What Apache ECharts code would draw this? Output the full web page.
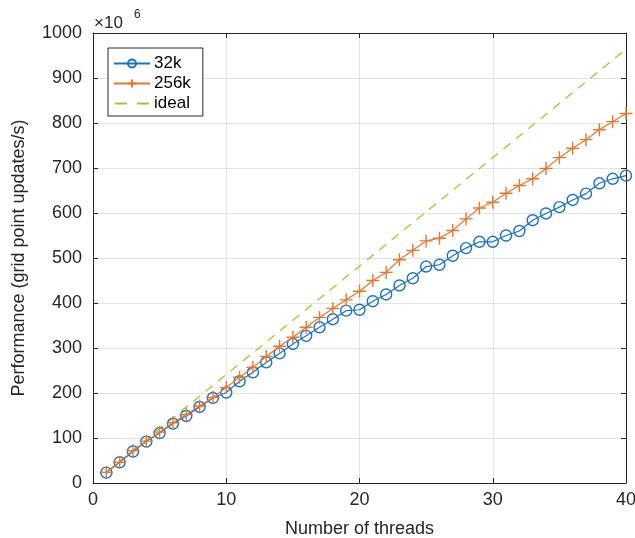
<!DOCTYPE html>
<html>
<head>
<meta charset="utf-8">
<script src="https://cdn.jsdelivr.net/npm/echarts@6/dist/echarts.min.js"></script>
<style>
  html, body { margin: 0; padding: 0; background: #fff; }
  #chart { width: 635px; height: 538px; }
</style>
</head>
<body>
<div id="chart"></div>
<script>
  // threads on the x axis
  var threads = [1, 2, 3, 4, 5, 6, 7, 8, 9, 10, 11, 12, 13, 14, 15, 16, 17, 18, 19, 20,
    21, 22, 23, 24, 25, 26, 27, 28, 29, 30, 31, 32, 33, 34, 35, 36, 37, 38, 39, 40];

  // performance, units of 1e6 grid point updates/s
  var perf32k = [23, 46, 70, 92, 111, 132, 149, 169, 189, 201, 226, 246, 268, 288, 309, 327, 346, 364, 383, 385,
    404, 419, 439, 455, 481, 485, 505, 522, 536, 536, 550, 560, 584, 599, 613, 629, 643, 666, 676, 683];
  var perf256k = [24, 46, 72, 93, 113, 134, 152, 171, 190, 212, 235, 257, 281, 304, 324, 346, 368, 388, 407, 426,
    450, 468, 496, 517, 538, 544, 561, 587, 611, 624, 644, 661, 676, 699, 723, 744, 763, 785, 803, 821];
  // ideal line end points
  var idealThreads = [1, 40];
  var idealPerf = [24.1, 964];

  var xTicks = { min: 0, max: 40, interval: 10 };
  var yTicks = { min: 0, max: 1000, interval: 100 };

  function pairs(xs, ys) {
    var out = [];
    for (var i = 0; i < xs.length; i++) out.push([xs[i], ys[i]]);
    return out;
  }

  var blue = '#1a72c4';
  var orange = '#e8772e';
  var olive = '#b3c22a';
  var axisCol = '#262626';
  var font = 'Liberation Sans, Arial, sans-serif';

  var chart = echarts.init(document.getElementById('chart'));

  // top / right edges of the box, ticks only
  var frameAxis = {
    type: 'value',
    axisLine: { show: true, onZero: false, lineStyle: { color: axisCol, width: 1 } },
    axisTick: { show: true, inside: true, length: 5, lineStyle: { color: axisCol } },
    axisLabel: { show: false },
    splitLine: { show: false }
  };

  chart.setOption({
    animation: false,
    textStyle: { fontFamily: font },
    grid: { left: 93, right: 9, top: 33, bottom: 55, containLabel: false, outerBoundsMode: 'none' },
    legend: {
      orient: 'vertical',
      left: 108,
      top: 48,
      width: 80,
      padding: [7, 12, 4, 5],
      itemGap: 3,
      itemWidth: 36,
      itemHeight: 10,
      backgroundColor: '#fff',
      borderColor: axisCol,
      borderWidth: 1,
      borderRadius: 0,
      textStyle: { fontSize: 17, color: '#000', fontFamily: font, padding: [0, 0, 0, -1] },
      data: [
        { name: '32k' },
        { name: '256k' },
        {
          name: 'ideal',
          itemStyle: { color: 'rgba(0,0,0,0)', borderWidth: 0 },
          lineStyle: { type: [12, 10], dashOffset: -1 }
        }
      ]
    },
    xAxis: [
      {
        type: 'value',
        min: xTicks.min, max: xTicks.max, interval: xTicks.interval,
        name: 'Number of threads',
        nameLocation: 'middle',
        nameGap: 37,
        nameTextStyle: { fontSize: 18, color: axisCol },
        axisLine: { show: true, onZero: false, lineStyle: { color: axisCol } },
        axisTick: { show: true, inside: true, length: 5, lineStyle: { color: axisCol } },
        axisLabel: { fontSize: 18, color: axisCol, margin: 8 },
        splitLine: { show: true, lineStyle: { color: '#e3e3e3' } }
      },
      Object.assign({}, frameAxis, { position: 'top', min: xTicks.min, max: xTicks.max, interval: xTicks.interval })
    ],
    yAxis: [
      {
        type: 'value',
        min: yTicks.min, max: yTicks.max, interval: yTicks.interval,
        name: 'Performance (grid point updates/s)',
        nameLocation: 'middle',
        nameGap: 65,
        nameTextStyle: { fontSize: 18, color: axisCol },
        axisLine: { show: true, onZero: false, lineStyle: { color: axisCol } },
        axisTick: { show: true, inside: true, length: 5, lineStyle: { color: axisCol } },
        axisLabel: { fontSize: 18, color: axisCol, margin: 11, formatter: function (v) { return String(v); } },
        splitLine: { show: true, lineStyle: { color: '#e3e3e3' } }
      },
      Object.assign({}, frameAxis, { position: 'right', min: yTicks.min, max: yTicks.max, interval: yTicks.interval })
    ],
    graphic: [
      { type: 'text', left: 94, top: 15, style: { text: '×10', fontSize: 17, fill: axisCol, fontFamily: font } },
      { type: 'text', left: 134, top: 9, style: { text: '6', fontSize: 12, fill: axisCol, fontFamily: font } }
    ],
    series: [
      {
        name: '32k',
        type: 'line',
        data: pairs(threads, perf32k),
        symbol: 'circle',
        symbolSize: 11,
        showAllSymbol: true,
        lineStyle: { color: blue, width: 1.2 },
        itemStyle: { color: 'rgba(255,255,255,0)', borderColor: blue, borderWidth: 1.4 },
        z: 3
      },
      {
        name: '256k',
        type: 'line',
        data: pairs(threads, perf256k),
        symbol: 'path://M6,0 L6,12 M0,6 L12,6',
        symbolSize: 13,
        showAllSymbol: true,
        lineStyle: { color: orange, width: 1.2 },
        itemStyle: { color: orange, borderColor: orange, borderWidth: 1.4 },
        z: 4
      },
      {
        name: 'ideal',
        type: 'line',
        data: pairs(idealThreads, idealPerf),
        symbol: 'none',
        lineStyle: { color: olive, width: 1.3, type: [9, 7] },
        itemStyle: { color: olive },
        z: 2
      }
    ]
  });
</script>
</body>
</html>
